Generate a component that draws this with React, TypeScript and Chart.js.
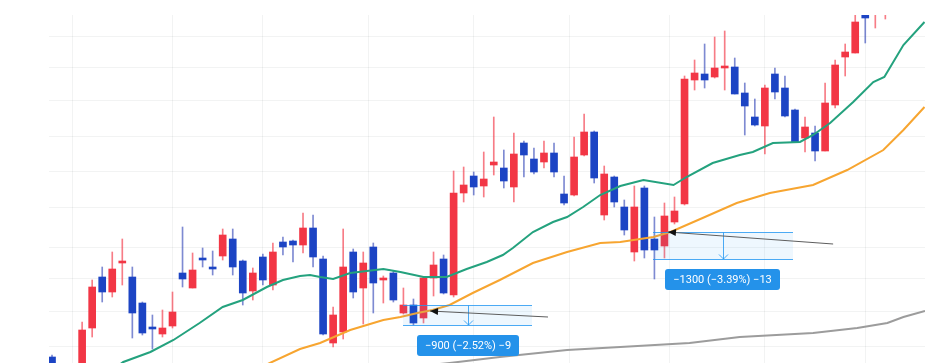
import React, { useEffect, useRef } from "react";
import { Chart, registerables } from "chart.js";

Chart.register(...registerables);

// ---- candle data (bar index, price points) ----
const bars = Array.from({ length: 88 }, (_, i) => i);
const opens = [6, -27, -12, -5, 35, 86, 71, 100, 86, 60, 35, 29, 37, 90, 75, 104, 96, 107, 124, 102, 72, 106, 78, 121, 122, 118, 135, 104, 20, 31, 111, 75, 116, 83, 90, 50, 58, 45, 85, 104, 68, 170, 187, 177, 198, 195, 176, 220, 204, 201, 210, 169, 168, 208, 231, 148, 186, 156, 111, 175, 124, 117, 141, 159, 283, 289, 286, 295, 296, 270, 246, 237, 289, 275, 253, 225, 230, 212, 258, 306, 310, 351, 353, 350, 360, 368, 364, 375];
const highs = [8, -7, -7, 41, 83, 96, 111, 124, 96, 61, 48, 53, 71, 136, 110, 115, 112, 134, 134, 103, 95, 109, 120, 126, 123, 150, 148, 107, 56, 134, 114, 111, 120, 87, 92, 75, 64, 86, 111, 108, 192, 196, 191, 211, 246, 213, 230, 222, 215, 222, 220, 187, 226, 249, 232, 197, 187, 163, 177, 177, 146, 160, 166, 287, 303, 319, 326, 332, 305, 280, 264, 278, 295, 287, 254, 246, 237, 280, 303, 319, 350, 355, 361, 365, 372, 376, 378, 382];
const lows = [-15, -32, -27, -9, 26, 61, 66, 78, 25, 28, 14, 26, 35, 76, 75, 96, 88, 103, 88, 58, 63, 78, 73, 108, 101, 110, 96, 28, 16, 24, 65, 39, 50, 60, 61, 49, 38, 40, 67, 69, 66, 161, 168, 166, 188, 175, 161, 186, 189, 195, 186, 158, 167, 207, 180, 143, 156, 128, 102, 105, 84, 105, 139, 158, 273, 275, 285, 273, 269, 228, 237, 209, 264, 246, 221, 211, 202, 212, 255, 287, 310, 320, 335, 344, 352, 360, 358, 366];
const closes = [-9, -12, -22, 33, 76, 71, 94, 101, 50, 30, 34, 35, 51, 84, 93, 103, 94, 128, 96, 70, 90, 83, 111, 116, 118, 135, 106, 29, 48, 96, 71, 100, 80, 85, 63, 58, 40, 85, 98, 70, 170, 178, 176, 184, 201, 182, 209, 208, 191, 210, 191, 160, 206, 231, 185, 189, 161, 133, 156, 113, 113, 147, 152, 284, 290, 283, 295, 296, 269, 257, 238, 275, 271, 247, 221, 236, 212, 260, 298, 311, 341, 345, 358, 360, 368, 364, 375, 370];

// ---- moving averages (bar index, value) ----
const maFastBar = [5.0, 7.1, 9.8, 12.1, 14.7, 17.0, 19.0, 21.4, 23.0, 24.7, 25.7, 26.7, 28.0, 29.7, 33.0, 34.7, 37.0, 39.3, 41.3, 43.3, 44.9, 45.9, 47.9, 49.9, 51.3, 52.9, 54.6, 56.6, 58.9, 61.9, 63.2, 65.8, 68.5, 69.8, 71.8, 74.5, 75.8, 77.5, 79.8, 81.8, 82.9, 84.8, 86.9];
const maFastValue = [-14, 1, 11, 23, 40, 56, 63, 76, 83, 87, 88, 86, 84, 90, 94, 91, 86, 86, 94, 101, 108, 115, 131, 141, 146, 156, 168, 177, 183, 178, 186, 200, 208, 211, 220, 221, 228, 240, 261, 281, 286, 318, 341];
const maMidBar = [19.7, 21.7, 24.7, 26.7, 29.7, 33.0, 34.7, 36.4, 37.9, 39.6, 41.9, 44.6, 47.9, 51.3, 54.6, 56.6, 59.9, 61.6, 64.8, 68.2, 71.5, 75.8, 79.2, 82.8, 84.8, 86.9];
const maMidValue = [-9, 0, 14, 20, 33, 43, 46, 50, 53, 58, 70, 83, 100, 111, 120, 121, 126, 131, 145, 160, 170, 178, 193, 213, 233, 256];
const maSlowBar = [36.7, 39.6, 44.6, 51.3, 56.6, 63.5, 68.5, 75.8, 80.2, 83.2, 84.8, 86.95];
const maSlowValue = [-3, 0, 6, 13, 16, 20, 26, 30, 35, 40, 46, 52];

// ---- grid ----
const timeGridBars = [7, 17, 25, 38, 46, 57, 66, 76, 86];
const priceGridValues = [17, 52, 85, 116, 156, 192, 227, 262, 295, 326];

// ---- price range annotations ----
const rangeFromBar = [34.96, 59.9];
const rangeToBar = [47.8, 73.8];
const rangeTop = [58, 131];
const rangeBottom = [38, 104];
const rangeArrowBar = [41.4, 66.8];
const rangeLabels = ["\u2212900 (\u22122.52%) \u22129", "\u22121300 (\u22123.39%) \u221213"];
const labelBar = [41.4, 66.8];
const labelValue = [18, 84];
const pointerFromBar = [49.4, 77.8];
const pointerFromValue = [46, 119];
const pointerToBar = [37.65, 61.35];
const pointerToValue = [52, 131];

const UP = "#f23645";
const DOWN = "#1c44c4";
const UP_WICK = "rgba(242,54,69,0.65)";
const DOWN_WICK = "rgba(40,60,180,0.6)";
const GRID = "rgba(42,46,57,0.06)";

const annotationPlugin = {
  id: "rangeAnnotations",
  afterDatasetsDraw(chart: any) {
    const { ctx } = chart;
    const x = chart.scales.x;
    const y = chart.scales.y;
    ctx.save();
    for (let k = 0; k < rangeLabels.length; k++) {
      const x0 = Math.round(x.getPixelForValue(rangeFromBar[k]));
      const x1 = Math.round(x.getPixelForValue(rangeToBar[k]));
      const yt = Math.round(y.getPixelForValue(rangeTop[k])) + 0.5;
      const yb = Math.round(y.getPixelForValue(rangeBottom[k])) + 0.5;
      ctx.fillStyle = "rgba(33,150,243,0.08)";
      ctx.fillRect(x0, yt, x1 - x0, yb - yt);
      ctx.strokeStyle = "rgba(33,150,243,0.8)";
      ctx.lineWidth = 1;
      ctx.beginPath();
      ctx.moveTo(x0, yt);
      ctx.lineTo(x1, yt);
      ctx.moveTo(x0, yb);
      ctx.lineTo(x1, yb);
      ctx.stroke();
      // vertical arrow
      const ax = Math.round(x.getPixelForValue(rangeArrowBar[k])) + 0.5;
      ctx.beginPath();
      ctx.moveTo(ax, yt);
      ctx.lineTo(ax, yb - 0.5);
      ctx.moveTo(ax - 4.5, yb - 5);
      ctx.lineTo(ax, yb - 0.5);
      ctx.lineTo(ax + 4.5, yb - 5);
      ctx.stroke();
      // pointer line with arrowhead
      const px0 = x.getPixelForValue(pointerFromBar[k]);
      const py0 = y.getPixelForValue(pointerFromValue[k]);
      const px1 = x.getPixelForValue(pointerToBar[k]);
      const py1 = y.getPixelForValue(pointerToValue[k]);
      ctx.strokeStyle = "#5d5d5d";
      ctx.lineWidth = 1;
      ctx.beginPath();
      ctx.moveTo(px0, py0);
      ctx.lineTo(px1, py1);
      ctx.stroke();
      const ang = Math.atan2(py1 - py0, px1 - px0);
      const len = 8;
      const hw = 3.5;
      const bx = px1 - Math.cos(ang) * len;
      const by = py1 - Math.sin(ang) * len;
      ctx.fillStyle = "#111";
      ctx.beginPath();
      ctx.moveTo(px1, py1);
      ctx.lineTo(bx + Math.sin(ang) * hw, by - Math.cos(ang) * hw);
      ctx.lineTo(bx - Math.sin(ang) * hw, by + Math.cos(ang) * hw);
      ctx.closePath();
      ctx.fill();
      // label
      ctx.font = "11px Roboto, 'Noto Sans', sans-serif";
      const tw = ctx.measureText(rangeLabels[k]).width;
      const lx = x.getPixelForValue(labelBar[k]);
      const ly = y.getPixelForValue(labelValue[k]);
      const w = Math.round(tw + 16);
      const h = 21;
      const rx = Math.round(lx - w / 2);
      const ry = Math.round(ly - h / 2);
      ctx.fillStyle = "#2492ea";
      ctx.beginPath();
      (ctx as any).roundRect(rx, ry, w, h, 3);
      ctx.fill();
      ctx.fillStyle = "#ffffff";
      ctx.textAlign = "center";
      ctx.textBaseline = "middle";
      ctx.fillText(rangeLabels[k], rx + w / 2, ry + h / 2 + 0.5);
    }
    ctx.restore();
  },
};

export default function App() {
  const ref = useRef<HTMLCanvasElement | null>(null);

  useEffect(() => {
    if (!ref.current) return;
    const up = bars.map((i) => closes[i] >= opens[i]);
    const chart = new Chart(ref.current, {
      type: "bar",
      data: {
        datasets: [
          {
            type: "line",
            label: "MA fast",
            data: maFastBar.map((b, k) => ({ x: b, y: maFastValue[k] })),
            borderColor: "#24a27e",
            borderWidth: 2,
            pointRadius: 0,
            tension: 0,
            order: 0,
          } as any,
          {
            type: "line",
            label: "MA mid",
            data: maMidBar.map((b, k) => ({ x: b, y: maMidValue[k] })),
            borderColor: "#f7a530",
            borderWidth: 2,
            pointRadius: 0,
            tension: 0,
            order: 0,
          },
          {
            type: "line",
            label: "MA slow",
            data: maSlowBar.map((b, k) => ({ x: b, y: maSlowValue[k] })),
            borderColor: "#9c9c9c",
            borderWidth: 2,
            pointRadius: 0,
            tension: 0,
            order: 0,
          },
          {
            type: "bar",
            label: "body",
            data: bars.map((i) => ({ x: i, y: [opens[i], closes[i]] })),
            backgroundColor: up.map((u) => (u ? UP : DOWN)),
            borderWidth: 0,
            barThickness: 7,
            minBarLength: 2,
            grouped: false,
            order: 1,
          },
          {
            type: "bar",
            label: "wick",
            data: bars.map((i) => ({ x: i, y: [lows[i], highs[i]] })),
            backgroundColor: up.map((u) => (u ? UP_WICK : DOWN_WICK)),
            borderWidth: 0,
            barThickness: 1,
            grouped: false,
            order: 2,
          },
        ] as any,
      },
      options: {
        animation: false,
        responsive: false,
        devicePixelRatio: 1,
        layout: { padding: { left: 49, top: 15, right: 15, bottom: 0 } },
        scales: {
          x: {
            type: "linear",
            min: -0.3,
            max: 86.95,
            offset: false,
            border: { display: false },
            ticks: { display: false },
            grid: { color: GRID, drawTicks: false, lineWidth: 1 },
            afterBuildTicks: (s: any) => {
              s.ticks = timeGridBars.map((v) => ({ value: v }));
            },
          },
          y: {
            type: "linear",
            min: 0,
            max: 348,
            border: { display: false },
            ticks: { display: false },
            grid: { color: GRID, drawTicks: false, lineWidth: 1 },
            afterBuildTicks: (s: any) => {
              s.ticks = priceGridValues.map((v) => ({ value: v }));
            },
          },
        },
        plugins: {
          legend: { display: false },
          tooltip: { enabled: false },
        },
      } as any,
      plugins: [annotationPlugin],
    });
    return () => chart.destroy();
  }, []);

  return (
    <div style={{ position: "absolute", left: 0, top: 0, width: 940, height: 363, background: "#ffffff" }}>
      <canvas ref={ref} width={940} height={363} style={{ display: "block" }} />
    </div>
  );
}
